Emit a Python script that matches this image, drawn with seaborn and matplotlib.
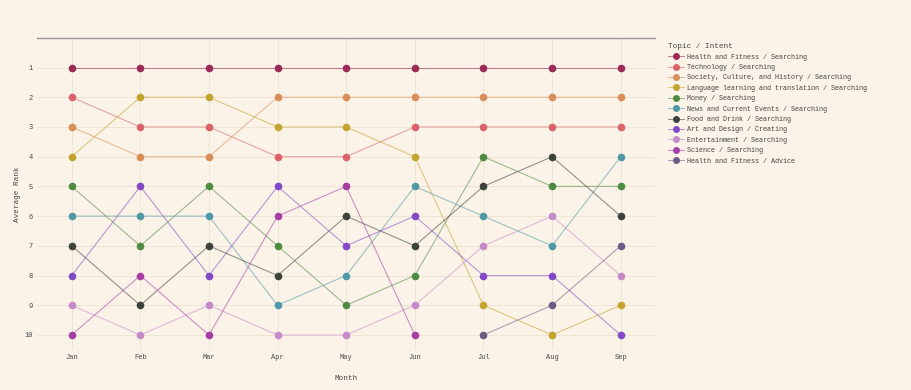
import numpy as np
import pandas as pd
import seaborn as sns
import matplotlib.pyplot as plt
from matplotlib.colors import to_rgba
from matplotlib.lines import Line2D

months = ['Jan', 'Feb', 'Mar', 'Apr', 'May', 'Jun', 'Jul', 'Aug', 'Sep']
nan = np.nan

topics = [
    'Health and Fitness / Searching',
    'Technology / Searching',
    'Society, Culture, and History / Searching',
    'Language learning and translation / Searching',
    'Money / Searching',
    'News and Current Events / Searching',
    'Food and Drink / Searching',
    'Art and Design / Creating',
    'Entertainment / Searching',
    'Science / Searching',
    'Health and Fitness / Advice',
]

health_search = [1, 1, 1, 1, 1, 1, 1, 1, 1]
technology = [2, 3, 3, 4, 4, 3, 3, 3, 3]
society = [3, 4, 4, 2, 2, 2, 2, 2, 2]
language = [4, 2, 2, 3, 3, 4, 9, 10, 9]
money = [5, 7, 5, 7, 9, 8, 4, 5, 5]
news = [6, 6, 6, 9, 8, 5, 6, 7, 4]
food = [7, 9, 7, 8, 6, 7, 5, 4, 6]
art = [8, 5, 8, 5, 7, 6, 8, 8, 10]
entertainment = [9, 10, 9, 10, 10, 9, 7, 6, 8]
science = [10, 8, 10, 6, 5, 10, nan, nan, nan]
health_advice = [nan, nan, nan, nan, nan, nan, 10, 9, 7]

series = [health_search, technology, society, language, money, news,
          food, art, entertainment, science, health_advice]

colors = ['#9c2a57', '#d9626b', '#d98e57', '#c2a42f', '#4e8b43', '#4f98a6',
          '#3d423b', '#8149c6', '#c48bc8', '#a63ea5', '#6b5c86']

rows = []
for name, vals in zip(topics, series):
    for i, v in enumerate(vals):
        if not np.isnan(v):
            rows.append({'Topic / Intent': name, 'month': i, 'rank': v})
df = pd.DataFrame(rows)

bg = '#fbf3e7'
sns.set_theme(style='white')
plt.rcParams['font.family'] = ['Liberation Mono', 'DejaVu Sans Mono']

fig = plt.figure(figsize=(9.11, 3.90), dpi=100, facecolor=bg)
ax = fig.add_axes([0.041, 0.103, 0.678, 0.800])
ax.set_facecolor(bg)

palette = dict(zip(topics, colors))
sns.lineplot(data=df, x='month', y='rank', hue='Topic / Intent', hue_order=topics,
             palette=palette, marker='o', markersize=5.5, markeredgewidth=0,
             linewidth=0.8, ax=ax, legend=False, sort=True)

# lines faded, markers solid
for line in ax.get_lines():
    c = line.get_color()
    line.set_color(to_rgba(c, 0.55))
    line.set_markerfacecolor(c)
    line.set_markeredgecolor(c)

handles = [Line2D([], [], color=to_rgba(c, 0.55), linewidth=0.8, marker='o',
                  markersize=5, markerfacecolor=c, markeredgecolor=c,
                  markeredgewidth=0) for c in colors]

leg = fig.legend(handles, topics, title='Topic / Intent', loc='upper left',
                 bbox_to_anchor=(0.727, 0.905), frameon=False, fontsize=4.9,
                 title_fontsize=5.5, handlelength=2.3, handletextpad=0.5,
                 labelspacing=0.5, alignment='left')
for t in leg.get_texts():
    t.set_color('#444444')
leg.get_title().set_color('#444444')

ax.set_xlim(-0.5, 8.5)
ax.set_ylim(10.5, 0)
ax.set_xticks(range(len(months)))
ax.set_xticklabels(months)
ax.set_yticks(range(1, 11))
ax.tick_params(axis='both', labelsize=5, colors='#444444', length=0, pad=3)
ax.grid(True, color='#eee5d6', linewidth=0.7)
ax.set_axisbelow(True)

for s in ['left', 'right', 'bottom']:
    ax.spines[s].set_visible(False)
ax.spines['top'].set_color('#999999')
ax.spines['top'].set_linewidth(1)

ax.set_xlabel('Month', fontsize=5.5, color='#444444', labelpad=10)
ax.set_ylabel('Average Rank', fontsize=5.5, color='#444444', labelpad=3)

fig.savefig('out.png', dpi=100, facecolor=bg)
